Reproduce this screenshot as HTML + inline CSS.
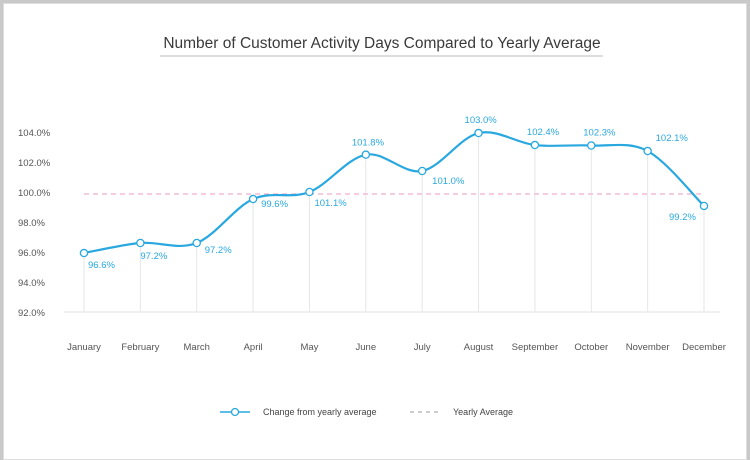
<!DOCTYPE html>
<html><head><meta charset="utf-8"><style>
body{margin:0;background:#c9c9c9;font-family:"Liberation Sans",sans-serif}
#frame{position:absolute;left:3px;top:3px;width:742px;height:455px;background:#fff;border:1px solid #ddd}
</style></head><body>
<div id="frame"></div>
<svg id="c" width="750" height="460" style="position:absolute;left:0;top:0">
<text x="382" y="48" text-anchor="middle" font-size="15.5" fill="#3a3a3a">Number of Customer Activity Days Compared to Yearly Average</text>
<line x1="160" y1="56" x2="603" y2="56" stroke="#bbb"/>
</svg>
<script>
const months=["January","February","March","April","May","June","July","August","September","October","November","December"];
const values=[95.93,96.6,96.6,99.53,100.0,102.49,101.4,103.93,103.13,103.1,102.73,99.07];
const labels=["96.6%","97.2%","97.2%","99.6%","101.1%","101.8%","101.0%","103.0%","102.4%","102.3%","102.1%","99.2%"];
const ticks=[92,94,96,98,100,102,104];
const avg=[100];
const svg=document.getElementById('c');const NS="http://www.w3.org/2000/svg";
function X(i){return 84+i*(704-84)/11}
function Y(v){return 312-(v-92)*15}
function mk(t,a,p){const e=document.createElementNS(NS,t);for(const k in a)e.setAttribute(k,a[k]);(p||svg).appendChild(e);return e}
ticks.forEach(t=>{const e=mk('text',{x:18,y:Y(t)+4,'font-size':9.5,fill:'#555'});e.textContent=t.toFixed(1)+'%';

});
const base=mk('line',{x1:64,y1:312,x2:720,y2:312,stroke:'#f0f0f0','stroke-width':2});


months.forEach((m,i)=>{const g=mk('line',{x1:X(i),y1:Y(values[i]),x2:X(i),y2:312,stroke:'#e6e6e6'});


const t=mk('text',{x:X(i),y:350,'text-anchor':'middle','font-size':9.5,fill:'#555'});t.textContent=m;

});
const al=mk('line',{x1:X(0),y1:Y(avg[0])+2,x2:X(11),y2:Y(avg[0])+2,stroke:'#f4bcd6','stroke-width':1.5,'stroke-dasharray':'5,4'});


const P=values.map((v,i)=>[X(i),Y(v)]);
let d='M'+P[0][0]+','+P[0][1];
for(let i=0;i<P.length-1;i++){const p0=P[Math.max(i-1,0)],p1=P[i],p2=P[i+1],p3=P[Math.min(i+2,P.length-1)];const k=1/6;
d+=` C${p1[0]+(p2[0]-p0[0])*k},${p1[1]+(p2[1]-p0[1])*k} ${p2[0]-(p3[0]-p1[0])*k},${p2[1]-(p3[1]-p1[1])*k} ${p2[0]},${p2[1]}`;}
const ln=mk('path',{d:d,fill:'none',stroke:'#29a8e0','stroke-width':2.2});


const off=[[4,15],[0,16],[8,10],[8,8],[5,14],[-14,-9],[10,13],[-14,-10],[-8,-10],[-8,-10],[8,-10],[-35,14]];
P.forEach((p,i)=>{const c=mk('circle',{cx:p[0],cy:p[1],r:3.6,fill:'#fff',stroke:'#29a8e0','stroke-width':1.3});


const t=mk('text',{x:p[0]+off[i][0],y:p[1]+off[i][1],'font-size':9.5,fill:'#29a8e0'});t.textContent=labels[i];

});
const g=mk('g',{});


mk('line',{x1:220,y1:412,x2:250,y2:412,stroke:'#29a8e0','stroke-width':1.5},g);
mk('circle',{cx:235,cy:412,r:3.5,fill:'#fff',stroke:'#29a8e0','stroke-width':1.3},g);
let t1=mk('text',{x:263,y:415,'font-size':9,fill:'#444'},g);t1.textContent='Change from yearly average';


mk('line',{x1:410,y1:412,x2:440,y2:412,stroke:'#999','stroke-width':1,'stroke-dasharray':'4,4'},g);
let t2=mk('text',{x:453,y:415,'font-size':9,fill:'#444'},g);t2.textContent='Yearly Average';


</script>
</body></html>
